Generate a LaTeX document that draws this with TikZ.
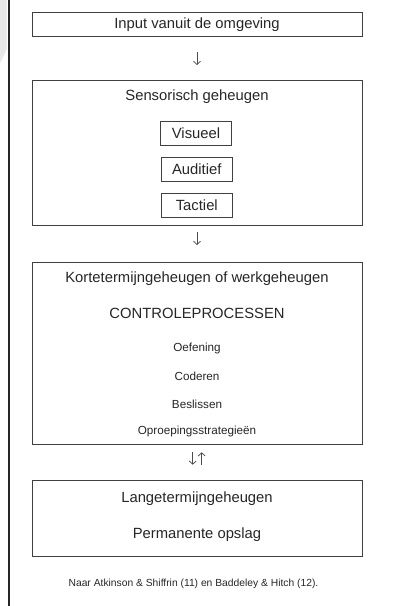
\documentclass[tikz,border=0pt]{standalone}
\usepackage{fontspec}
\setmainfont{Liberation Sans}
\usetikzlibrary{arrows.meta}
\begin{document}
\begin{tikzpicture}[x=1pt,y=-1pt,
  bigbox/.style={draw=black!75,line width=0.8pt,inner sep=0pt},
  subbox/.style={draw=black!75,line width=0.8pt,inner sep=0pt},
  main/.style={font=\fontsize{14.8}{16}\selectfont,text=black!85,inner sep=0pt},
  small/.style={font=\fontsize{11.7}{13}\selectfont,text=black!85,inner sep=0pt},
  captext/.style={font=\fontsize{10.3}{12}\selectfont,text=black!85,inner sep=0pt},
  arr/.style={draw=black!70,line width=0.75pt,-{Straight Barb[length=3.2pt,width=7pt]}}]
\useasboundingbox (0,0) rectangle (392,606);
% left margin shading and rule
\fill[black!9] (0,0) -- (6.5,0) -- (6.5,50) -- (0,63) -- cycle;
\draw[black!85,line width=2pt] (9,0) -- (9,606);
% box 1
\draw[bigbox] (32,12.5) rectangle (362,36);
\node[main] (input) at (197,24.3) {Input vanuit de omgeving};
\coordinate (a1s) at (197,52);
\coordinate (a1e) at (197,65);
\draw[arr] (a1s) -- (a1e);
% box 2
\draw[bigbox] (32,80) rectangle (362,225.7);
\node[main] (sens) at (197,96.5) {Sensorisch geheugen};
\draw[subbox] (160.3,121.7) rectangle (231,145);
\node[main] (vis) at (196,133.3) {Visueel};
\draw[subbox] (161.3,157.3) rectangle (232.3,181);
\node[main] (aud) at (196.8,169.2) {Auditief};
\draw[subbox] (161.3,193.3) rectangle (232.3,217.3);
\node[main] (tac) at (196.8,205.3) {Tactiel};
\coordinate (a2s) at (197,232);
\coordinate (a2e) at (197,245);
\draw[arr] (a2s) -- (a2e);
% box 3
\draw[bigbox] (32,262.7) rectangle (362,444);
\node[main] (kort) at (197,278.5) {Kortetermijngeheugen of werkgeheugen};
\node[main] (ctrl) at (197,313.5) {CONTROLEPROCESSEN};
\node[small] (oef) at (197,348.5) {Oefening};
\node[small] (cod) at (197,376.5) {Coderen};
\node[small] (bes) at (197,404.5) {Beslissen};
\node[small] (opr) at (197,431) {Oproepingsstrategieën};
\coordinate (a3s) at (192.7,452.3);
\coordinate (a3e) at (192.7,464.7);
\draw[arr] (a3s) -- (a3e);
\coordinate (a4s) at (201.7,464.7);
\coordinate (a4e) at (201.7,452.3);
\draw[arr] (a4s) -- (a4e);
% box 4
\draw[bigbox] (32,480.7) rectangle (362,556.7);
\node[main] (lang) at (197,498.5) {Langetermijngeheugen};
\node[main] (perm) at (197,534.5) {Permanente opslag};
% caption
\node[captext] (capt) at (193.5,584) {Naar Atkinson \& Shiffrin (11) en Baddeley \& Hitch (12).};
\end{tikzpicture}
\end{document}
